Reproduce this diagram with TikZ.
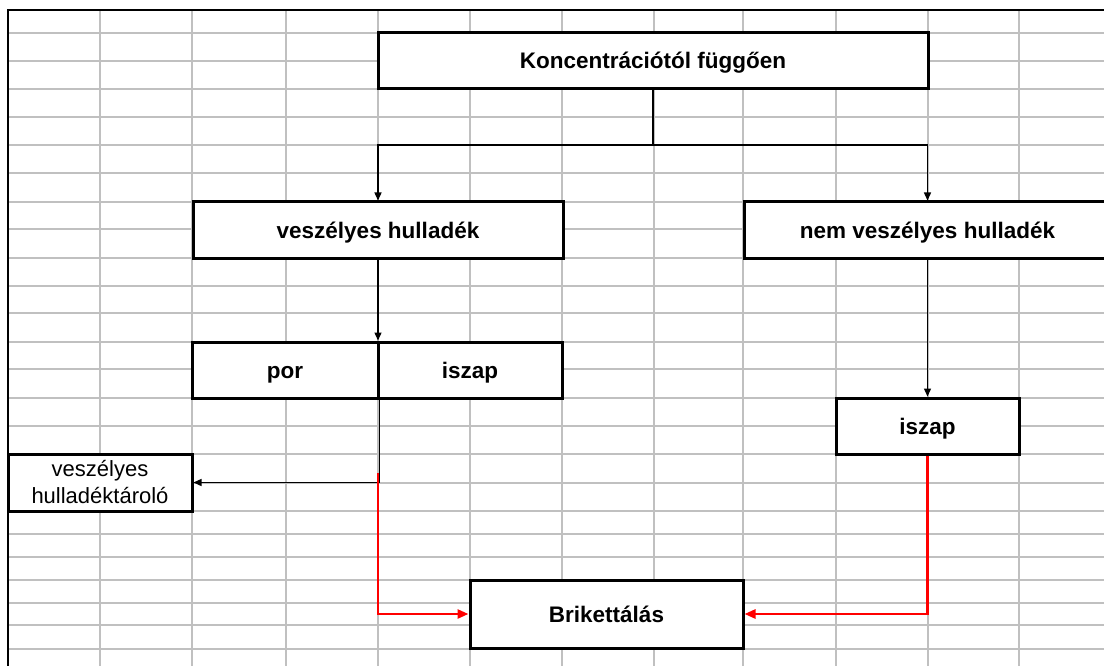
\documentclass[tikz,border=0pt]{standalone}
\usepackage{fontspec}
\setmainfont{Liberation Sans}
\usetikzlibrary{arrows.meta}
\definecolor{gridgray}{HTML}{C0C0C0}
\begin{document}
\begin{tikzpicture}[x=1pt,y=-1pt,
  gridline/.style={draw=gridgray, line width=1.8pt},
  frame/.style={draw=black, line width=2.5pt},
  box/.style={draw=black, line width=3pt, fill=white, inner sep=0pt,
    text height=18pt, text depth=2pt,
    font=\fontsize{22.5}{26}\selectfont\bfseries},
  plainbox/.style={draw=black, line width=3pt, fill=white, inner sep=0pt,
    font=\fontsize{22}{27}\selectfont, align=center},
  conn/.style={draw=black, line width=1.4pt, -{Triangle[length=8pt,width=7pt]}},
  line/.style={draw=black, line width=1.4pt},
  redconn/.style={draw=red, line width=2.6pt, -{Triangle[length=11pt,width=9pt]}}
]
\useasboundingbox (0,0) rectangle (1104,666);
\clip (0,0) rectangle (1104,666);
\fill[white] (0,0) rectangle (1104,666);
% grid
\foreach \gx in {100,192,286,378,470,562,654,743,836,928,1019}
  \draw[gridline] (\gx,10) -- (\gx,666);
\foreach \gy in {33,61,89,117,145,173,202,229,258,286,313,342,369,398,426,454,483,511,534,557,580,603,625,649}
  \draw[gridline] (8,\gy) -- (1104,\gy);
\draw[frame] (8,666) -- (8,10) -- (1104,10);
% boxes
\node[box, minimum width=550pt, minimum height=56pt] (top) at (653,61) {Koncentrációtól függően};
\node[box, minimum width=370pt, minimum height=56pt] (vh) at (378,230) {veszélyes hulladék};
\node[box, minimum width=367pt, minimum height=56pt] (nvh) at (927.5,230) {nem veszélyes hulladék};
\node[box, minimum width=186pt, minimum height=56pt] (por) at (285,370) {por};
\node[box, minimum width=184pt, minimum height=56pt] (isz1) at (470,370) {iszap};
\node[box, minimum width=183pt, minimum height=56pt] (isz2) at (927.5,426) {iszap};
\node[plainbox, minimum width=184pt, minimum height=57pt] (tar) at (100,482.5) {veszélyes\\hulladéktároló};
\node[box, minimum width=273pt, minimum height=68pt] (brik) at (606.5,614) {Brikettálás};
% connectors
\coordinate (split) at (653,145);
\draw[line] (top.south) -- (split);
\draw[conn] (split) -| (vh.north);
\draw[conn] (split) -| (nvh.north);
\draw[conn] (vh.south) -- (vh.south |- por.north);
\draw[conn] (por.south east) |- (tar.east);
\coordinate (rstart) at (378,473);
\draw[redconn] (rstart) |- (brik.west);
\draw[conn] (nvh.south) -- (isz2.north);
\draw[redconn] (isz2.south) |- (brik.east);
\end{tikzpicture}
\end{document}
